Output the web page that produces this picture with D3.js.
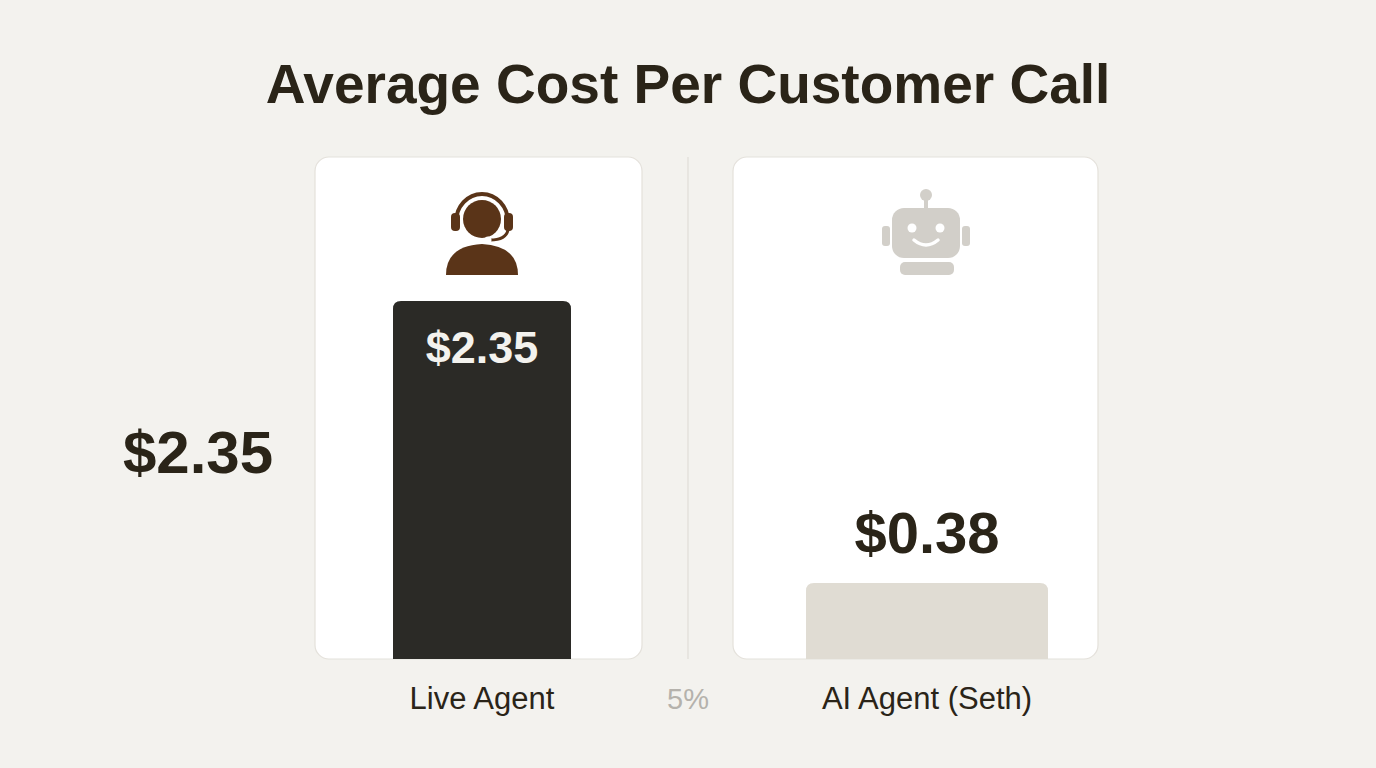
<!DOCTYPE html>
<html><head><meta charset="utf-8">
<script src="https://cdn.jsdelivr.net/npm/d3@7"></script>
<style>body{margin:0;background:#f3f2ee;}svg{display:block;font-family:"Liberation Sans",Arial,sans-serif;}</style>
</head><body><svg id="c" width="1376" height="768"></svg>
<script>
const categories = ["Live Agent", "AI Agent (Seth)"];
const values = [2.35, 0.38];
const valueLabels = ["$2.35", "$0.38"];
const title = "Average Cost Per Customer Call";
const midLabel = "5%";

const svg = d3.select("#c");
svg.append("rect").attr("width",1376).attr("height",768).attr("fill","#f3f2ee");
svg.append("text").attr("x",688).attr("y",103).attr("text-anchor","middle")
  .attr("font-size",55).attr("font-weight",700).attr("fill","#2a2418").text(title);

const y = d3.scaleLinear().domain([-0.152, 2.35]).range([659, 301]);
const cards = [{x:315,w:327,cx:482,bw:178,fill:"#2b2a26"},{x:733,w:365,cx:927,bw:242,fill:"#e0dcd3"}];

cards.forEach((c,i)=>{
  svg.append("rect").attr("x",c.x).attr("y",157).attr("width",c.w).attr("height",502)
    .attr("rx",14).attr("fill","#fff").attr("stroke","#e4e1db").attr("stroke-width",1.2);
  const cx = c.cx;
  const top = y(values[i]);
  const bx = cx - c.bw/2, r = 8, bot = 659;
  svg.append("path").attr("fill",c.fill).attr("d",
    `M${bx},${bot} V${top+r} Q${bx},${top} ${bx+r},${top} H${bx+c.bw-r} Q${bx+c.bw},${top} ${bx+c.bw},${top+r} V${bot} Z`);
  svg.append("text").attr("x",cx).attr("y",709).attr("text-anchor","middle")
    .attr("font-size",31).attr("fill","#2a2418").text(categories[i]);
});
svg.append("text").attr("x",482).attr("y",363).attr("text-anchor","middle").attr("font-size",45)
  .attr("font-weight",700).attr("fill","#f3f2ee").text(valueLabels[0]);
svg.append("text").attr("x",927).attr("y",553).attr("text-anchor","middle").attr("font-size",58)
  .attr("font-weight",700).attr("fill","#2a2418").text(valueLabels[1]);
svg.append("text").attr("x",198).attr("y",473).attr("text-anchor","middle").attr("font-size",60)
  .attr("font-weight",700).attr("fill","#2a2418").text(valueLabels[0]);
svg.append("line").attr("x1",688).attr("x2",688).attr("y1",157).attr("y2",659).attr("stroke","#dcd9d3");
svg.append("text").attr("x",688).attr("y",709).attr("text-anchor","middle").attr("font-size",29)
  .attr("fill","#b5b2ac").text(midLabel);

const h = svg.append("g").attr("fill","#5a3418");
h.append("circle").attr("cx",482).attr("cy",219).attr("r",19);
h.append("path").attr("d","M446,275 Q446,246 482,244 Q518,246 518,275 Z");
h.append("path").attr("fill","none").attr("stroke","#5a3418").attr("stroke-width",4).attr("d","M456,222 A26,28 0 0 1 508,222");
h.append("rect").attr("x",451).attr("y",213).attr("width",9).attr("height",18).attr("rx",4);
h.append("rect").attr("x",504).attr("y",213).attr("width",9).attr("height",18).attr("rx",4);
h.append("path").attr("fill","none").attr("stroke","#5a3418").attr("stroke-width",3).attr("d","M508,230 Q506,240 490,240");
h.append("circle").attr("cx",488).attr("cy",240).attr("r",3.5).attr("fill","#fff");
const rb = svg.append("g").attr("fill","#d2cfc9");
rb.append("circle").attr("cx",926).attr("cy",195).attr("r",6);
rb.append("rect").attr("x",924).attr("y",198).attr("width",4).attr("height",12);
rb.append("rect").attr("x",892).attr("y",208).attr("width",68).attr("height",50).attr("rx",12);
rb.append("rect").attr("x",882).attr("y",226).attr("width",8).attr("height",20).attr("rx",3);
rb.append("rect").attr("x",962).attr("y",226).attr("width",8).attr("height",20).attr("rx",3);
rb.append("rect").attr("x",900).attr("y",262).attr("width",54).attr("height",13).attr("rx",5);
rb.append("circle").attr("cx",912).attr("cy",228).attr("r",4.5).attr("fill","#fff");
rb.append("circle").attr("cx",940).attr("cy",228).attr("r",4.5).attr("fill","#fff");
rb.append("path").attr("d","M914,240 Q926,250 938,240").attr("fill","none").attr("stroke","#fff").attr("stroke-width",3.5).attr("stroke-linecap","round");
</script></body></html>
